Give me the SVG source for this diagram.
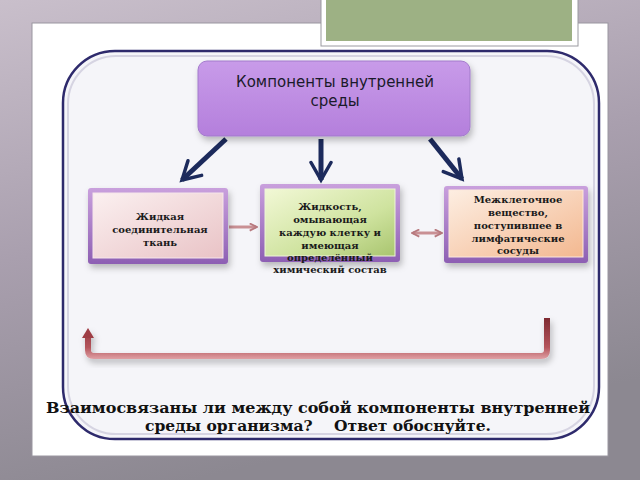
<svg xmlns="http://www.w3.org/2000/svg" width="640" height="480" viewBox="0 0 640 480">
<defs>
<linearGradient id="bg" x1="0" y1="0" x2="0.3" y2="1">
<stop offset="0" stop-color="#c9bfcb"/><stop offset="0.5" stop-color="#a99fae"/><stop offset="1" stop-color="#8c8891"/>
</linearGradient>
<linearGradient id="top" x1="0" y1="0" x2="0" y2="1">
<stop offset="0" stop-color="#c89be9"/><stop offset="1" stop-color="#b47fdc"/>
</linearGradient>
<linearGradient id="frameP" x1="0" y1="0" x2="0" y2="1">
<stop offset="0" stop-color="#c9a0dd"/><stop offset="1" stop-color="#8d5fb3"/>
</linearGradient>
<linearGradient id="pink" x1="0" y1="0" x2="1" y2="1">
<stop offset="0" stop-color="#fbf0f0"/><stop offset="1" stop-color="#e9c3c6"/>
</linearGradient>
<linearGradient id="green" x1="0" y1="0" x2="1" y2="1">
<stop offset="0" stop-color="#f2f8d6"/><stop offset="0.6" stop-color="#cfe39f"/><stop offset="1" stop-color="#a9c56f"/>
</linearGradient>
<linearGradient id="peach" x1="0" y1="0" x2="1" y2="1">
<stop offset="0" stop-color="#fdeee2"/><stop offset="1" stop-color="#f3b890"/>
</linearGradient>
<linearGradient id="red" gradientUnits="userSpaceOnUse" x1="0" y1="318" x2="0" y2="360">
<stop offset="0" stop-color="#7e2a31"/><stop offset="0.7" stop-color="#b4545b"/><stop offset="1" stop-color="#e3a7ab"/>
</linearGradient>
<filter id="sh" x="-10%" y="-10%" width="130%" height="140%">
<feDropShadow dx="2" dy="4" stdDeviation="3" flood-color="#000" flood-opacity="0.25"/>
</filter>
<marker id="vee" viewBox="0 0 10 10" refX="8" refY="5" markerWidth="5" markerHeight="5" orient="auto" markerUnits="strokeWidth">
<path d="M1,1 L8,5 L1,9" fill="none" stroke="#1c2a5c" stroke-width="1.4" stroke-linecap="round"/>
</marker>
<marker id="pk" viewBox="0 0 10 10" refX="8" refY="5" markerWidth="3" markerHeight="3" orient="auto-start-reverse" markerUnits="strokeWidth">
<path d="M1,1 L9,5 L1,9" fill="none" stroke="#b7797e" stroke-width="2"/>
</marker>
<style>
.t{font-family:"DejaVu Serif","Liberation Serif",serif;font-weight:bold;font-size:10px;fill:#1a1a1a;text-anchor:middle}
.q{font-family:"DejaVu Serif","Liberation Serif",serif;font-weight:bold;font-size:15.5px;fill:#111;text-anchor:middle}
.h{font-family:"DejaVu Sans","Liberation Sans",sans-serif;font-size:15px;fill:#1a1a2a;text-anchor:middle}
.nav{stroke:#1c2a5c;stroke-width:5;fill:none;marker-end:url(#vee)}
</style>
</defs>
<rect x="0" y="0" width="640" height="480" fill="url(#bg)"/>
<rect x="32" y="23" width="576" height="433" fill="#ffffff" stroke="#9a96a0" stroke-width="1"/>
<g id="green-box">
<rect x="321" y="-2" width="257" height="48" fill="#ffffff" stroke="#9a9aa0" stroke-width="1"/>
<rect x="326" y="-2" width="246" height="43" fill="#9db184"/>
</g>
<g id="frame">
<rect x="63" y="51" width="536" height="388" rx="52" fill="#f5f5f9" stroke="#2e2a6c" stroke-width="2.5"/>
<rect x="68" y="56" width="526" height="378" rx="48" fill="none" stroke="#d6d4e2" stroke-width="2"/>
</g>
<g id="connectors">
<line class="nav" x1="226" y1="139" x2="182" y2="180"/>
<line class="nav" x1="321" y1="139" x2="321" y2="180"/>
<line class="nav" x1="430" y1="139" x2="462" y2="179"/>
<line x1="229" y1="227" x2="256" y2="227" stroke="#c99094" stroke-width="3" marker-end="url(#pk)"/>
<line x1="413" y1="233" x2="441" y2="233" stroke="#c99094" stroke-width="3" marker-start="url(#pk)" marker-end="url(#pk)"/>
<g filter="url(#sh)">
<path d="M547,318 V350 Q547,356 541,356 H94 Q88,356 88,350 V336" fill="none" stroke="url(#red)" stroke-width="6"/>
<path d="M82,338 L88,328 L94,338 Z" fill="#9e3c44"/>
</g>
</g>
<g id="node-top">
<rect x="198" y="61" width="272" height="75" rx="9" fill="url(#top)" stroke="#a27acb" stroke-width="1" filter="url(#sh)"/>
<text class="h" x="335" y="87">Компоненты внутренней</text>
<text class="h" x="335" y="106">среды</text>
</g>
<g id="node-left">
<rect x="88" y="188" width="140" height="76" rx="3" fill="url(#frameP)" filter="url(#sh)"/>
<rect x="93" y="193" width="130" height="65" fill="url(#pink)" stroke="#f6e6ea" stroke-width="1"/>
<text class="t" x="160" y="220">Жидкая</text>
<text class="t" x="160" y="233">соединительная</text>
<text class="t" x="160" y="246">ткань</text>
</g>
<g id="node-middle">
<rect x="260" y="184" width="140" height="78" rx="3" fill="url(#frameP)" filter="url(#sh)"/>
<rect x="265" y="189" width="130" height="67" fill="url(#green)" stroke="#eef5d8" stroke-width="1"/>
<text class="t" x="330" y="210">Жидкость,</text>
<text class="t" x="330" y="223">омывающая</text>
<text class="t" x="330" y="236">каждую клетку и</text>
<text class="t" x="330" y="249">имеющая</text>
<text class="t" x="330" y="261">определённый</text>
<text class="t" x="330" y="273">химический состав</text>
</g>
<g id="node-right">
<rect x="444" y="186" width="144" height="77" rx="3" fill="url(#frameP)" filter="url(#sh)"/>
<rect x="449" y="190" width="134" height="67" fill="url(#peach)" stroke="#fbe8dc" stroke-width="1"/>
<text class="t" x="518" y="203">Межклеточное</text>
<text class="t" x="518" y="216">вещество,</text>
<text class="t" x="518" y="229">поступившее в</text>
<text class="t" x="518" y="242">лимфатические</text>
<text class="t" x="518" y="254">сосуды</text>
</g>
<g id="question">
<text class="q" x="318" y="413" textLength="544" lengthAdjust="spacingAndGlyphs">Взаимосвязаны ли между собой компоненты внутренней</text>
<text class="q" x="318" y="431" xml:space="preserve">среды организма?    Ответ обоснуйте.</text>
</g>
</svg>
